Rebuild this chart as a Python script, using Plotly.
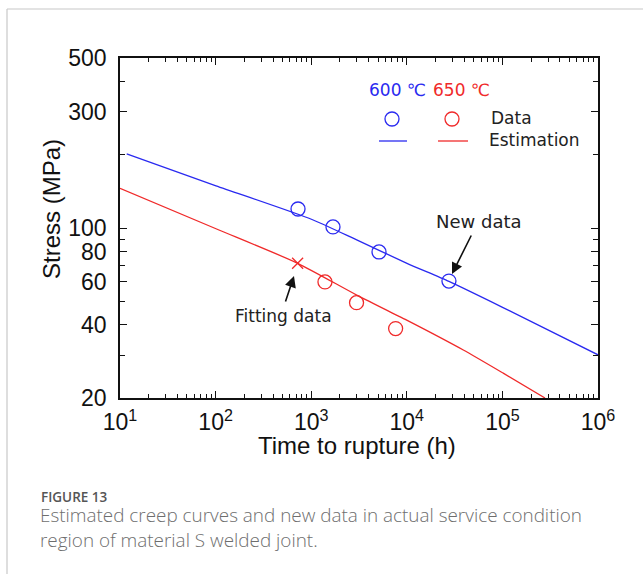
import plotly.graph_objects as go

# ---------------- data ----------------
blue_line_t = [11.75, 101, 1019, 2992, 10046, 27600, 99100, 1000000]
blue_line_s = [201.6, 149.1, 108.4, 89.3, 71.6, 60.3, 47.3, 30.1]

red_line_t = [10, 101, 722, 2992, 9980, 39000, 102000, 279000]
red_line_s = [145.6, 99.3, 71.6, 53.0, 41.8, 31.5, 25.3, 20.0]

blue_data_t = [728, 1690, 5120, 27600]
blue_data_s = [119.7, 101, 79.7, 60.5]

red_data_t = [1393, 2980, 7640]
red_data_s = [60, 49.3, 38.6]

fit_t = [721]
fit_s = [71.6]

x_tickvals = [10, 100, 1000, 10000, 100000, 1000000]
x_ticktext = ["10<sup>1</sup>", "10<sup>2</sup>", "10<sup>3</sup>",
              "10<sup>4</sup>", "10<sup>5</sup>", "10<sup>6</sup>"]
x_minor = [m * 10 ** d for d in range(1, 6) for m in range(2, 10)]
y_tickvals = [20, 40, 60, 80, 100, 300, 500]
y_ticktext = ["20", "40", "60", "80", "100", "300", "500"]
y_minor = [30, 50, 70, 90, 200, 400]

BLUE = "#2a2af0"
RED = "#f02a2a"

# ---------------- layout geometry (pixels) ----------------
W, H = 643, 574
L, R, T, B = 120, 598, 58, 398


def px(x):
    return (x - L) / (R - L)


def py(y):
    return (B - y) / (B - T)


fig = go.Figure()
fig.add_trace(go.Scatter(x=blue_line_t, y=blue_line_s, mode="lines",
                         line=dict(color=BLUE, width=1.3, shape="spline", smoothing=0.6),
                         showlegend=False))
fig.add_trace(go.Scatter(x=red_line_t, y=red_line_s, mode="lines",
                         line=dict(color=RED, width=1.3, shape="spline", smoothing=0.6),
                         showlegend=False))
fig.add_trace(go.Scatter(x=blue_data_t, y=blue_data_s, mode="markers",
                         marker=dict(symbol="circle-open", size=14, color=BLUE,
                                     line=dict(color=BLUE, width=1.3)),
                         showlegend=False))
fig.add_trace(go.Scatter(x=red_data_t, y=red_data_s, mode="markers",
                         marker=dict(symbol="circle-open", size=14, color=RED,
                                     line=dict(color=RED, width=1.3)),
                         showlegend=False))
fig.add_trace(go.Scatter(x=fit_t, y=fit_s, mode="markers",
                         marker=dict(symbol="x-thin-open", size=11, color=RED,
                                     line=dict(color=RED, width=1.3)),
                         showlegend=False))

tickfont = dict(family="Liberation Sans, Arial", size=23, color="#111")
fig.update_xaxes(type="log", range=[1, 6], tickvals=x_tickvals, ticktext=x_ticktext,
                 ticks="inside", ticklen=7, tickwidth=1.2, tickcolor="#111",
                 minor=dict(tickvals=x_minor, ticks="inside", ticklen=4,
                            tickwidth=1, tickcolor="#111"),
                 showline=True, linecolor="#111", linewidth=1.5, mirror="allticks",
                 showgrid=False, zeroline=False, tickfont=tickfont,
                 ticklabelstandoff=3)
fig.update_yaxes(type="log", range=[1.30103, 2.69897], tickvals=y_tickvals,
                 ticktext=y_ticktext,
                 ticks="inside", ticklen=7, tickwidth=1.2, tickcolor="#111",
                 minor=dict(tickvals=y_minor, ticks="inside", ticklen=5,
                            tickwidth=1, tickcolor="#111"),
                 showline=True, linecolor="#111", linewidth=1.5, mirror="allticks",
                 showgrid=False, zeroline=False, tickfont=tickfont,
                 ticklabelstandoff=7)


def note(x, y, text, font, xanchor="center", **kw):
    return dict(x=px(x), y=py(y), xref="paper", yref="paper", showarrow=False,
                xanchor=xanchor, yanchor="middle", text=text, font=font, **kw)


ann = []
axfont = dict(family="Liberation Sans, Arial", size=24, color="#111")
ann.append(note(357, 445, "Time to rupture (h)", axfont))
ann.append(note(51, 209, "Stress (MPa)", axfont, textangle=-90))
lfont = dict(family="DejaVu Sans", size=17, color="#222")
ann.append(note(367, 90, "600 ℃", dict(lfont, color=BLUE), xanchor="left"))
ann.append(note(431, 90, "650 ℃", dict(lfont, color=RED), xanchor="left"))
ann.append(note(489, 118, "Data", lfont, xanchor="left"))
ann.append(note(487, 140, "Estimation", lfont, xanchor="left"))
ann.append(note(479, 221, "New data", dict(lfont, size=18)))
ann.append(note(283, 316, "Fitting data", lfont))
# arrows
ann.append(dict(x=px(452), y=py(274), xref="paper", yref="paper", showarrow=True,
                text="", ax=20, ay=-40, arrowhead=2, arrowsize=1.4, arrowwidth=1.6,
                arrowcolor="#111"))
ann.append(dict(x=px(294), y=py(276), xref="paper", yref="paper", showarrow=True,
                text="", ax=-9, ay=27, arrowhead=2, arrowsize=1.4, arrowwidth=1.6,
                arrowcolor="#111"))
# caption
ann.append(note(39, 496.5, "FIGURE 13",
                dict(family="Open Sans", size=13.5, color="#555", weight=600),
                xanchor="left"))
capfont = dict(family="Open Sans", size=18.9, color="#6e6e6e", weight=300)
ann.append(note(38, 527.5,
                "Estimated creep curves and new data in actual service condition"
                "<br>region of material S welded joint.",
                capfont, xanchor="left", align="left"))

shapes = []
# legend glyphs
for cx, col in [(392, BLUE), (452, RED)]:
    shapes.append(dict(type="circle", xref="paper", yref="paper",
                       x0=px(cx - 7), x1=px(cx + 7), y0=py(119 + 7), y1=py(119 - 7),
                       line=dict(color=col, width=1.3)))
shapes.append(dict(type="line", xref="paper", yref="paper", x0=px(379), x1=px(407),
                   y0=py(141), y1=py(141), line=dict(color=BLUE, width=1.3)))
shapes.append(dict(type="line", xref="paper", yref="paper", x0=px(438), x1=px(468),
                   y0=py(141), y1=py(141), line=dict(color=RED, width=1.3)))
# outer frame (top and left)
shapes.append(dict(type="line", xref="paper", yref="paper", x0=px(7), x1=px(650),
                   y0=py(9), y1=py(9), line=dict(color="#c8c8c8", width=1.2)))
shapes.append(dict(type="line", xref="paper", yref="paper", x0=px(7), x1=px(7),
                   y0=py(9), y1=py(580), line=dict(color="#c8c8c8", width=1.2)))

fig.update_layout(width=W, height=H, margin=dict(l=L, r=W - R, t=T, b=H - B),
                  paper_bgcolor="white", plot_bgcolor="white",
                  annotations=ann, shapes=shapes, showlegend=False)

fig.write_html("out.html")
